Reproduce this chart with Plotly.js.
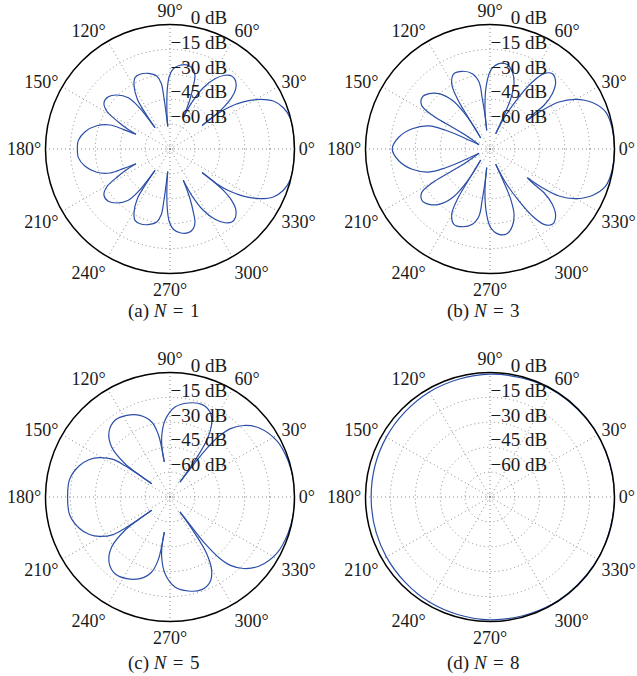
<!DOCTYPE html>
<html><head><meta charset="utf-8">
<script src="https://cdn.plot.ly/plotly-3.0.1.min.js"></script>
<style>html,body{margin:0;padding:0;background:#fff;} #chart{width:637px;height:676px;}</style>
</head><body><div id="chart"></div>
<script>
// ---- N = 1 ----
const thetaN1 = [
 -36.3,-36.6,-35.2,-32.7,-28.9,-24.9,-20,-14.6,-7.5,0,7.5,14.6,20,24.9,28.9,32.7,35.2,36.6,36.3, null,
 36.3,36.8,37.8,39.8,42.3,46,49.8,53.3,57.4,61.5,64.9,67, null,
 67,68.1,69.7,71.1,73.7,77.7,83.2,87.6,90.5,92.6,94.5,95.8, null,
 95.8,96.3,96.8,97.6,100.3,106,111.9,116.1,119.7,123.3,124.5,125.1, null,
 125.1,125.8,126.5,129.1,134.6,139.7,144.9,149,152.4,155,156.6, null,
 156.6,157.2,158.2,162.4,168.5,174.8,180,185.2,191.5,197.6,201.8,202.8,203.4, null,
 203.4,205,207.6,211,215.1,220.3,225.4,230.9,233.5,234.2,234.9, null,
 234.9,235.5,236.7,240.3,243.9,248.1,254,259.7,262.4,263.2,263.7,264.2, null,
 264.2,265.5,267.4,269.5,272.4,276.8,282.3,286.3,288.9,290.3,291.9,293, null,
 293,295.1,298.5,302.6,306.7,310.2,314,317.7,320.2,322.2,323.2,323.7
];
const dbN1 = [
 -51,-40,-30.8,-22.5,-13.1,-6.4,-2.3,-0.3,0,0,0,-0.3,-2.3,-6.4,-13.1,-22.5,-30.8,-40,-51, null,
 -51,-42.5,-34.3,-26.7,-21.5,-18.1,-17.4,-19.6,-24.7,-33,-44.2,-54.5, null,
 -54.5,-42.7,-34.5,-28.5,-25,-23.4,-24.2,-26.6,-31,-39,-51,-61.4, null,
 -61.4,-52,-43,-35,-30.3,-27.6,-26.5,-27.1,-31.3,-39.2,-48.4,-59.3, null,
 -59.3,-50,-44,-35.2,-29.3,-26.3,-26.4,-30.5,-39.9,-47,-52.7, null,
 -52.7,-44.4,-36.1,-28.7,-22.8,-19.5,-19.2,-19.5,-22.8,-28.7,-36.1,-44.4,-52.7, null,
 -52.7,-47,-39.9,-30.5,-26.4,-26.3,-29.3,-35.2,-44,-50,-59.3, null,
 -59.3,-48.4,-39.2,-31.3,-27.1,-26.5,-27.6,-30.3,-35,-43,-52,-61.4, null,
 -61.4,-51,-39,-31,-26.6,-24.2,-23.4,-25,-28.5,-34.5,-42.7,-54.5, null,
 -54.5,-44.2,-33,-24.7,-19.6,-17.4,-18.1,-21.5,-26.7,-34.3,-42.5,-51
];
// ---- N = 3 ----
const thetaN3 = [
 -37.6,-36.5,-34.3,-30.1,-24.4,-17.7,-9.4,0,9.4,17.7,24.4,30.1,34.3,36.5,37.6, null,
 37.6,38.7,39,41.6,45.6,50.4,54.4,57.7,60.9,65,69.6, null,
 69.6,67.4,67.6,69.8,73.8,78.4,84,89.5,93.3,97.1,100, null,
 100,98.4,98.7,99.3,103.2,109.6,115.6,120.4,123,124.7,130.2, null,
 130.2,125.8,125.4,127.7,132.7,137.8,142.5,147.4,149.7,150,150.6,158.6, null,
 158.6,156.6,157.1,159.3,165.4,172.5,180,187.5,194.6,200.7,202.9,203.4,201.4, null,
 201.4,209.4,210,210.3,212.6,217.5,222.2,227.3,232.3,234.6,234.2,229.8, null,
 229.8,235.3,237,239.6,244.4,250.4,256.8,260.7,261.3,261.6,260, null,
 260,262.9,266.7,270.5,276,281.6,286.2,290.2,292.4,292.6,290.4, null,
 290.4,295,299.1,302.3,305.6,309.6,314.4,318.4,321,321.3,322.4
];
const dbN3 = [
 -46.6,-35.8,-24.7,-15.4,-7.3,-1.8,-0.3,0,-0.3,-1.8,-7.3,-15.4,-24.7,-35.8,-46.6, null,
 -46.6,-41,-33.1,-24.8,-18.5,-16.1,-19.2,-27.3,-39.2,-52.6,-65.2, null,
 -65.2,-53,-42.2,-33.1,-26.7,-23.1,-23.3,-27.6,-36.6,-50.5,-63.6, null,
 -63.6,-54.5,-44.3,-34.1,-28.4,-25.3,-24.7,-29.4,-38.9,-52.8,-66.3, null,
 -66.3,-60,-49.2,-37.9,-29.6,-25.4,-23.6,-26.1,-34.8,-46.5,-58.2,-67.9, null,
 -67.9,-56.8,-46,-35.7,-26.6,-19.7,-16.1,-19.7,-26.6,-35.7,-46,-56.8,-67.9, null,
 -67.9,-58.2,-46.5,-34.8,-26.1,-23.6,-25.4,-29.6,-37.9,-49.2,-60,-66.3, null,
 -66.3,-52.8,-38.9,-29.4,-24.7,-25.3,-28.4,-34.1,-44.3,-54.5,-63.6, null,
 -63.6,-50.5,-36.6,-27.6,-23.3,-23.1,-26.7,-33.1,-42.2,-53,-65.2, null,
 -65.2,-52.6,-39.2,-27.3,-19.2,-16.1,-18.5,-24.8,-33.1,-41,-46.6
];
// ---- N = 5 ----
const thetaN5 = [
 -56.3,-54,-53,-51.1,-48.5,-44.2,-38,-27.5,-17,-8,0,8,17,27.5,38,44.2,48.5,51.1,53,54,56.3, null,
 56.3,55.7,57.1,60.4,64.8,71.1,79,86.8,93.7,97.9,99.4,99.2, null,
 99.2,99.6,100.6,103.7,110.2,117.9,125.6,133.2,139.4,143.5,144.3,144, null,
 144,144.6,145.2,146.5,150.8,155,161,170,180,190,199,205,209.2,213.5,214.8,215.4,216, null,
 216,215.7,216.5,220.6,226.8,234.4,242.1,249.8,256.3,259.4,260.4,260.8, null,
 260.8,260.6,262.1,266.3,273.2,281,288.9,295.2,299.6,302.9,304.3,303.7
];
const dbN5 = [
 -64.2,-52,-39.2,-28,-20,-13.2,-7.2,-2.2,-0.6,0,0,0,-0.6,-2.2,-7.2,-13.2,-20,-28,-39.2,-52,-64.2, null,
 -64.2,-48.3,-34.3,-24.2,-18.4,-16,-17.3,-20.7,-28.7,-38.5,-46.5,-53.6, null,
 -53.6,-45,-36.5,-28.5,-22.6,-19.3,-18.1,-21.3,-28.7,-41.3,-51.3,-61.4, null,
 -61.4,-50,-42,-34,-26.3,-21.5,-17.2,-13.6,-13.3,-13.6,-17.2,-21.5,-26.3,-34,-42,-50,-61.4, null,
 -61.4,-51.3,-41.3,-28.7,-21.3,-18.1,-19.3,-22.6,-28.5,-36.5,-45,-53.6, null,
 -53.6,-46.5,-38.5,-28.7,-20.7,-17.3,-16,-18.4,-24.2,-34.3,-48.3,-64.2
];
// ---- N = 8 ----
const thetaN8 = [0,30,60,90,120,150,180,210,240,270,300,330,360];
const dbN8 = [0,-0.1,-0.4,-1.0,-1.9,-2.9,-3.4,-2.9,-1.9,-1.0,-0.4,-0.1,0];

const radialTicks  = [-73.3, -60, -45, -30, -15, 0];
const radialLabels = ['', '\u221260 dB', '\u221245 dB', '\u221230 dB', '\u221215 dB',
                      '<span style="color:rgba(0,0,0,0)">\u22121</span>0 dB'];
const angleTicks   = [0, 30, 60, 90, 120, 150, 180, 210, 240, 270, 300, 330];
const angleLabels  = ['0°','30°','60°','90°','120°','150°','180°','210°','240°','270°','300°','330°'];
const captions = ['(a) <i>N</i>\u2004=\u20041', '(b) <i>N</i>\u2004=\u20043',
                  '(c) <i>N</i>\u2004=\u20045', '(d) <i>N</i>\u2004=\u20048'];

const W = 637, H = 676, R = 124.5;
const RMIN = -75, RMAX = 0;
const LABEL_LIFT = 4.2;   // dB: radial labels sit slightly above their grid circles
const centers = [[170,149],[490,149],[170,497],[490,497]];
const capPos = [[163.5,311],[483,311],[163.5,663],[483,663]];
const FONT = {family: 'Liberation Serif, Times New Roman, serif', size: 19, color: '#1a1a1a'};
const AFONT = {family: 'Liberation Serif, Times New Roman, serif', size: 18, color: '#1a1a1a'};
const BLUE = '#2b4ea8';
const GRID = '#8a8a8a';

function dom(c, rad) {
  return {x: [(c[0]-rad)/W, (c[0]+rad)/W], y: [1-(c[1]+rad)/H, 1-(c[1]-rad)/H]};
}
function polarLayout(c) {
  return {
    domain: dom(c, R),
    bgcolor: 'white',
    radialaxis: {
      range: [RMIN, RMAX], tickvals: radialTicks, showticklabels: false,
      angle: 90, showline: false, ticks: '',
      gridcolor: GRID, griddash: '1px,3px', gridwidth: 1
    },
    angularaxis: {
      tickvals: angleTicks, ticktext: angleLabels,
      direction: 'counterclockwise', rotation: 0,
      showline: true, linecolor: 'black', linewidth: 1.5,
      ticks: '', gridcolor: GRID, griddash: '1px,3px', gridwidth: 1,
      tickfont: AFONT
    }
  };
}
// transparent overlay carrying only the radial (dB) labels
function labelLayout(c) {
  const span = RMAX - RMIN;
  return {
    domain: dom(c, R * (span + LABEL_LIFT) / span),
    bgcolor: 'rgba(0,0,0,0)',
    radialaxis: {
      range: [RMIN - LABEL_LIFT, RMAX], tickvals: radialTicks, ticktext: radialLabels,
      angle: 90, tickangle: 90, showline: false, showgrid: false, ticks: '',
      tickfont: FONT
    },
    angularaxis: {
      showline: false, showgrid: false, showticklabels: false, ticks: ''
    }
  };
}

const series = [[thetaN1, dbN1], [thetaN3, dbN3], [thetaN5, dbN5], [thetaN8, dbN8]];
const data = series.map((s, i) => ({
  type: 'scatterpolar', mode: 'lines',
  theta: s[0], r: s[1],
  subplot: i === 0 ? 'polar' : 'polar' + (i + 1),
  line: {color: BLUE, width: 1.2, shape: 'spline', smoothing: 1},
  connectgaps: false, hoverinfo: 'skip', showlegend: false
}));
centers.forEach((c, i) => {
  data.push({type: 'scatterpolar', mode: 'lines', r: [], theta: [],
             subplot: 'polar' + (i + 5), hoverinfo: 'skip', showlegend: false});
});

const layout = {
  width: W, height: H, margin: {l: 0, r: 0, t: 0, b: 0},
  paper_bgcolor: 'white', showlegend: false, font: FONT,
  annotations: captions.map((t, i) => ({
    text: t, xref: 'paper', yref: 'paper',
    x: capPos[i][0]/W, y: 1 - capPos[i][1]/H,
    xanchor: 'center', yanchor: 'middle', showarrow: false, font: FONT
  }))
};
centers.forEach((c, i) => {
  layout[i === 0 ? 'polar' : 'polar' + (i + 1)] = polarLayout(c);
  layout['polar' + (i + 5)] = labelLayout(c);
});

Plotly.newPlot('chart', data, layout, {staticPlot: true});
</script></body></html>
